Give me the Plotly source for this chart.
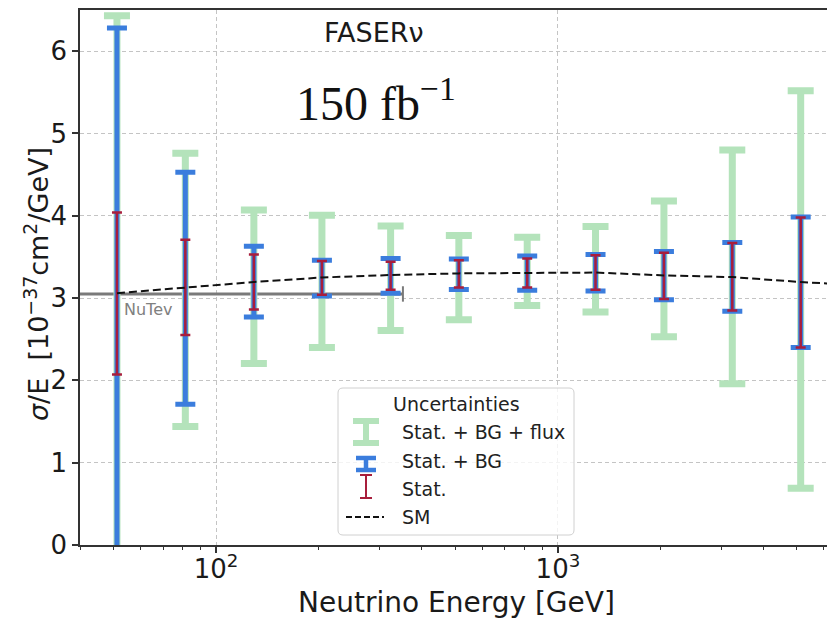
import plotly.graph_objects as go

# Bin centres of the neutrino energy (GeV)
energy = [51.3, 81.3, 129, 204, 324, 513, 813, 1288, 2042, 3236, 5129]
# Measured sigma/E central values [1e-37 cm^2/GeV]
central = [3.05, 3.12, 3.19, 3.24, 3.27, 3.29, 3.30, 3.31, 3.28, 3.26, 3.19]

# Upper / lower edges of each uncertainty band
stat_hi = [4.04, 3.71, 3.53, 3.45, 3.44, 3.46, 3.48, 3.52, 3.55, 3.67, 3.98]
stat_lo = [2.07, 2.55, 2.86, 3.04, 3.10, 3.13, 3.13, 3.10, 2.99, 2.85, 2.40]
bg_hi = [6.28, 4.53, 3.63, 3.46, 3.48, 3.475, 3.51, 3.53, 3.565, 3.674, 3.985]
bg_lo = [-0.18, 1.71, 2.77, 3.025, 3.06, 3.105, 3.094, 3.085, 2.98, 2.84, 2.40]
flux_hi = [6.43, 4.76, 4.07, 4.006, 3.876, 3.76, 3.74, 3.87, 4.18, 4.80, 5.52]
flux_lo = [-0.33, 1.44, 2.205, 2.40, 2.607, 2.737, 2.91, 2.83, 2.53, 1.96, 0.69]

# Standard Model prediction
sm_energy = [51.3, 81.3, 129, 204, 324, 513, 813, 1288, 2042, 3236, 5129, 6310]
sm_value = [3.06, 3.13, 3.195, 3.25, 3.28, 3.30, 3.305, 3.31, 3.275, 3.255, 3.195, 3.175]

# NuTeV measurement and its energy range
nutev_value = 3.05
nutev_range = [30, 352]

x_ticks = [100, 1000]
x_ticktext = ["10<sup>2</sup>", "10<sup>3</sup>"]
x_minor = [40, 50, 60, 70, 80, 90, 200, 300, 400, 500, 600, 700, 800, 900,
           2000, 3000, 4000, 5000, 6000]
y_ticks = [0, 1, 2, 3, 4, 5, 6]

GREEN = "#b4e3bb"
BLUE = "#3b7ddd"
RED = "#a81e3c"
FONT = "DejaVu Sans"

W, H = 827, 618
ML, MR, MT, MB = 80, 0, 10, 73
PW, PH = W - ML - MR, H - MT - MB


def px(xp):
    return (xp - ML) / PW


def py(yp):
    return (H - MB - yp) / PH


def band(hi, lo):
    plus = [h - c for h, c in zip(hi, central)]
    minus = [c - l for l, c in zip(lo, central)]
    return plus, minus


fig = go.Figure()

# NuTeV reference line with end cap
fig.add_trace(go.Scatter(
    x=nutev_range, y=[nutev_value, nutev_value], mode="lines",
    line=dict(color="#7a7a7a", width=3), hoverinfo="skip", showlegend=False))
fig.add_trace(go.Scatter(
    x=[nutev_range[1]], y=[nutev_value], mode="markers",
    marker=dict(symbol="line-ns", size=11, line=dict(color="#7a7a7a", width=2)),
    hoverinfo="skip", showlegend=False))

# Uncertainty bands, widest first
for hi, lo, color, thick, capw in [
    (flux_hi, flux_lo, GREEN, 7, 13),
    (bg_hi, bg_lo, BLUE, 5, 10),
    (stat_hi, stat_lo, RED, 2.5, 5),
]:
    plus, minus = band(hi, lo)
    fig.add_trace(go.Scatter(
        x=energy, y=central, mode="markers",
        marker=dict(size=1, color="rgba(0,0,0,0)"),
        error_y=dict(type="data", symmetric=False, array=plus, arrayminus=minus,
                     color=color, thickness=thick, width=capw),
        showlegend=False))

# SM curve
fig.add_trace(go.Scatter(
    x=sm_energy, y=sm_value, mode="lines",
    line=dict(color="#111111", width=2, dash="8px,4px"),
    showlegend=False))

axis_common = dict(
    showline=True, linecolor="#333333", linewidth=1.5,
    ticks="outside", ticklen=6, tickwidth=1.5, tickcolor="#333333",
    showgrid=True, gridcolor="#c4c4c4", griddash="4px,3px", gridwidth=1,
    zeroline=False, tickfont=dict(family=FONT, size=26, color="#1a1a1a"),
)

fig.update_xaxes(
    type="log", range=[1.602, 3.787], tickvals=x_ticks, ticktext=x_ticktext,
    mirror=True, ticklabelstandoff=-6,
    minor=dict(tickvals=x_minor, ticks="outside", ticklen=3.5, tickwidth=1,
               tickcolor="#333333", showgrid=False),
    **axis_common)
fig.update_yaxes(range=[0, 6.5], tickvals=y_ticks, **axis_common)

annotations = [
    dict(text="Neutrino Energy [GeV]", x=px(456), y=py(602), xanchor="center",
         yanchor="middle", font=dict(family=FONT, size=28, color="#1a1a1a")),
    dict(text="<i>σ</i>/E\u00a0\u00a0[10<sup>−37</sup>cm<sup>2</sup>/GeV]",
         x=px(37), y=py(284), xanchor="center", yanchor="middle", textangle=-90,
         font=dict(family=FONT, size=27, color="#1a1a1a")),
    dict(text="FASERν", x=px(374), y=py(33), xanchor="center", yanchor="middle",
         font=dict(family=FONT, size=27, color="#1a1a1a")),
    dict(text="150 fb<sup>−1</sup>", x=px(376), y=py(100), xanchor="center",
         yanchor="middle", font=dict(family="Liberation Serif", size=48, color="#111111")),
    dict(text="NuTev", x=px(122), y=py(309), xanchor="left", yanchor="middle",
         font=dict(family=FONT, size=16, color="#808080")),
    # legend texts
    dict(text="Uncertainties", x=px(456), y=py(404), xanchor="center", yanchor="middle",
         font=dict(family=FONT, size=19, color="#222222")),
    dict(text="Stat. + BG + flux", x=px(400), y=py(432), xanchor="left", yanchor="middle",
         font=dict(family=FONT, size=19, color="#222222")),
    dict(text="Stat. + BG", x=px(400), y=py(461), xanchor="left", yanchor="middle",
         font=dict(family=FONT, size=19, color="#222222")),
    dict(text="Stat.", x=px(400), y=py(489), xanchor="left", yanchor="middle",
         font=dict(family=FONT, size=19, color="#222222")),
    dict(text="SM", x=px(400), y=py(517), xanchor="left", yanchor="middle",
         font=dict(family=FONT, size=19, color="#222222")),
]
for a in annotations:
    a.update(xref="paper", yref="paper", showarrow=False)


def rounded_box(x0, y0, x1, y1, r):
    rx, ry = r / PW, r / PH
    X0, X1, Y0, Y1 = px(x0), px(x1), py(y1), py(y0)
    return (f"M {X0+rx},{Y0} L {X1-rx},{Y0} Q {X1},{Y0} {X1},{Y0+ry} "
            f"L {X1},{Y1-ry} Q {X1},{Y1} {X1-rx},{Y1} L {X0+rx},{Y1} "
            f"Q {X0},{Y1} {X0},{Y1-ry} L {X0},{Y0+ry} Q {X0},{Y0} {X0+rx},{Y0} Z")


shapes = [dict(type="path", path=rounded_box(338, 388, 574, 535, 5),
               xref="paper", yref="paper", fillcolor="rgba(255,255,255,0.8)",
               line=dict(color="#d0d0d0", width=1))]


def legend_I(xc, ytop, ybot, half, color, thick):
    out = [dict(type="line", x0=px(xc), x1=px(xc), y0=py(ytop), y1=py(ybot))]
    for yy in (ytop, ybot):
        out.append(dict(type="line", x0=px(xc - half), x1=px(xc + half),
                        y0=py(yy), y1=py(yy)))
    for s in out:
        s.update(xref="paper", yref="paper", line=dict(color=color, width=thick))
    return out


shapes += legend_I(366, 421, 443, 13, GREEN, 6)
shapes += legend_I(366, 458, 470, 10, BLUE, 4.5)
shapes += legend_I(366, 475, 498, 6, RED, 2)
shapes.append(dict(type="line", xref="paper", yref="paper", x0=px(346), x1=px(384),
                   y0=py(517), y1=py(517),
                   line=dict(color="#111111", width=2, dash="6px,3px")))

fig.update_layout(
    width=W, height=H, margin=dict(l=ML, r=MR, t=MT, b=MB),
    plot_bgcolor="white", paper_bgcolor="white",
    annotations=annotations, shapes=shapes, showlegend=False,
)

fig.write_html("out.html")
